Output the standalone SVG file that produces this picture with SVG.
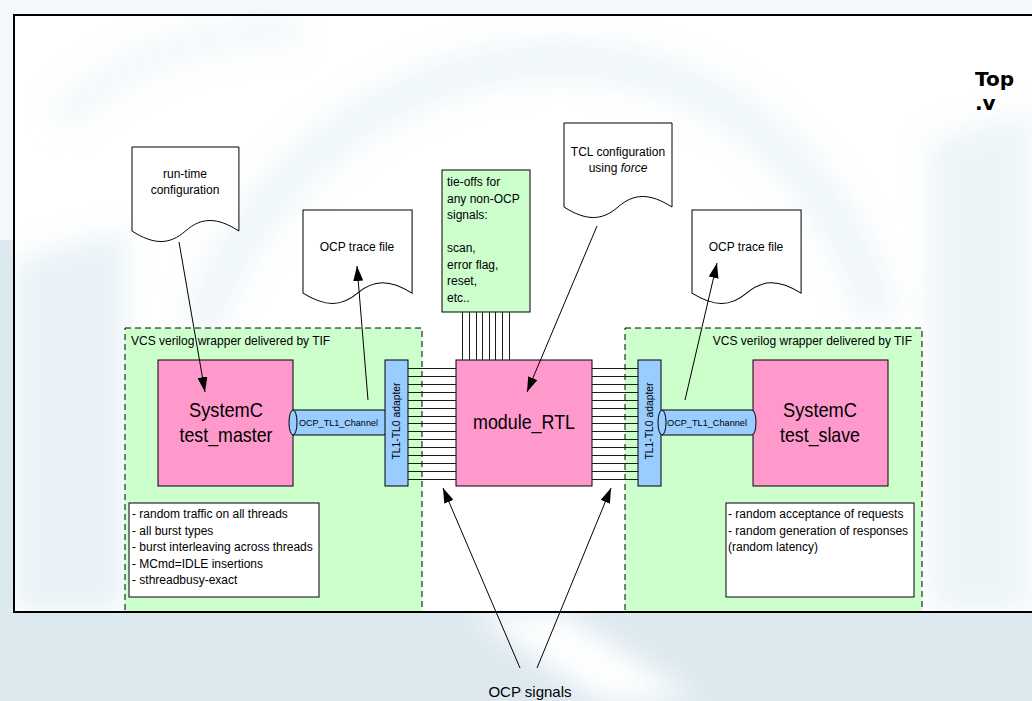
<svg xmlns="http://www.w3.org/2000/svg" width="1032" height="701" viewBox="0 0 1032 701">
<defs>
<style>
.t{font-family:"Liberation Sans",Arial,sans-serif;fill:#000}
.s12{font-size:12px}
.big{font-size:21px}
.doc{fill:#fff;stroke:#000;stroke-width:1}
.wrap{fill:#ccffcc;stroke:#000;stroke-width:1;stroke-dasharray:6 4}
.pink{fill:#ff99cc;stroke:#000;stroke-width:1}
.blue{fill:#99ccff;stroke:#000;stroke-width:1}
.note{fill:#fff;stroke:#000;stroke-width:1}
.wire{stroke:#1a1a1a;stroke-width:1;fill:none}
.arrow{stroke:#000;stroke-width:1;fill:none;marker-end:url(#ah)}
</style>
<marker id="ah" viewBox="0 0 15 10" refX="15" refY="5" markerWidth="15" markerHeight="10" markerUnits="userSpaceOnUse" orient="auto"><path d="M0,0 L15,5 L0,10 Z" fill="#000"/></marker>
<path id="docshape" d="M0,0 H108 V84 C86,70 70,70 54,84 C38,98 22,98 0,84 Z"/>
<filter id="blur" x="-20%" y="-20%" width="140%" height="140%"><feGaussianBlur stdDeviation="14"/></filter>
</defs>

<g id="background">
<rect x="0" y="0" width="1032" height="701" fill="#f6f9fb"/>
<rect x="0" y="612" width="1032" height="89" fill="#dde9ef"/>
<rect x="0" y="240" width="14" height="372" fill="#dde9ef"/>
<rect x="14" y="15" width="1030" height="597" fill="#ffffff"/>
<g filter="url(#blur)" opacity="0.5">
<polygon points="14,260 125,230 125,612 14,612" fill="#d3e6ef"/>
<polygon points="930,140 1032,110 1032,612 930,612" fill="#dcebf1"/>
<path d="M200,330 C260,150 420,60 560,60 C700,60 830,150 880,320" fill="none" stroke="#deedf3" stroke-width="40"/>
<path d="M60,120 C120,60 200,30 300,30" fill="none" stroke="#e6f1f5" stroke-width="30"/>
</g>
<g filter="url(#blur)">
<polygon points="470,612 560,612 700,701 600,701" fill="#ffffff"/>
</g>
</g>

<g id="top-label">
<text class="t" x="975" y="86" style="font-family:'DejaVu Sans',Verdana,sans-serif;font-weight:bold;font-size:20px">Top</text>
<text class="t" x="975" y="110" style="font-family:'DejaVu Sans',Verdana,sans-serif;font-weight:bold;font-size:20px">.v</text>
</g>

<g id="wrapper-left">
<rect class="wrap" x="125" y="328" width="297" height="284"/>
<text class="t s12" x="131" y="345">VCS verilog wrapper delivered by TIF</text>
</g>
<g id="wrapper-right">
<rect class="wrap" x="625" y="328" width="297" height="284"/>
<text class="t s12" x="912" y="345" text-anchor="end">VCS verilog wrapper delivered by TIF</text>
</g>

<g id="runtime-config">
<use href="#docshape" class="doc" transform="translate(132,147) scale(0.99,1)"/>
<text class="t s12" x="185" y="178" text-anchor="middle">run-time</text>
<text class="t s12" x="185" y="194" text-anchor="middle">configuration</text>
</g>

<g id="trace-left">
<use href="#docshape" class="doc" transform="translate(303,210) scale(1.01,0.99)"/>
<text class="t s12" x="357" y="251" text-anchor="middle">OCP trace file</text>
</g>

<g id="tcl-config">
<use href="#docshape" class="doc" transform="translate(564,123)"/>
<text class="t s12" x="618" y="156" text-anchor="middle">TCL configuration</text>
<text class="t s12" x="618" y="172" text-anchor="middle">using <tspan font-style="italic">force</tspan></text>
</g>

<g id="trace-right">
<use href="#docshape" class="doc" transform="translate(692,210) scale(1.01,0.99)"/>
<text class="t s12" x="746" y="251" text-anchor="middle">OCP trace file</text>
</g>

<g id="tieoffs">
<rect x="442" y="170" width="88" height="142" fill="#ccffcc" stroke="#000" stroke-width="1"/>
<text class="t s12" x="447" y="186">tie-offs for</text>
<text class="t s12" x="447" y="202.5">any non-OCP</text>
<text class="t s12" x="447" y="219">signals:</text>
<text class="t s12" x="447" y="252">scan,</text>
<text class="t s12" x="447" y="268.5">error flag,</text>
<text class="t s12" x="447" y="285">reset,</text>
<text class="t s12" x="447" y="301.5">etc..</text>
</g>

<g id="connectors">
<g id="tie-wires" class="wire">
<line x1="462.5" y1="312" x2="462.5" y2="360"/>
<line x1="469.5" y1="312" x2="469.5" y2="360"/>
<line x1="476.5" y1="312" x2="476.5" y2="360"/>
<line x1="482.5" y1="312" x2="482.5" y2="360"/>
<line x1="489.5" y1="312" x2="489.5" y2="360"/>
<line x1="495.5" y1="312" x2="495.5" y2="360"/>
<line x1="502.5" y1="312" x2="502.5" y2="360"/>
<line x1="509.5" y1="312" x2="509.5" y2="360"/>
</g>
<g id="wires-left" class="wire">
<line x1="408" y1="368.5" x2="456" y2="368.5"/>
<line x1="408" y1="376.5" x2="456" y2="376.5"/>
<line x1="408" y1="384.5" x2="456" y2="384.5"/>
<line x1="408" y1="392.5" x2="456" y2="392.5"/>
<line x1="408" y1="400.5" x2="456" y2="400.5"/>
<line x1="408" y1="408.5" x2="456" y2="408.5"/>
<line x1="408" y1="416.5" x2="456" y2="416.5"/>
<line x1="408" y1="423.5" x2="456" y2="423.5"/>
<line x1="408" y1="431.5" x2="456" y2="431.5"/>
<line x1="408" y1="439.5" x2="456" y2="439.5"/>
<line x1="408" y1="447.5" x2="456" y2="447.5"/>
<line x1="408" y1="455.5" x2="456" y2="455.5"/>
<line x1="408" y1="463.5" x2="456" y2="463.5"/>
<line x1="408" y1="471.5" x2="456" y2="471.5"/>
<line x1="408" y1="479.5" x2="456" y2="479.5"/>
</g>
<g id="wires-right" class="wire">
<line x1="592" y1="368.5" x2="638" y2="368.5"/>
<line x1="592" y1="376.5" x2="638" y2="376.5"/>
<line x1="592" y1="384.5" x2="638" y2="384.5"/>
<line x1="592" y1="392.5" x2="638" y2="392.5"/>
<line x1="592" y1="400.5" x2="638" y2="400.5"/>
<line x1="592" y1="408.5" x2="638" y2="408.5"/>
<line x1="592" y1="416.5" x2="638" y2="416.5"/>
<line x1="592" y1="423.5" x2="638" y2="423.5"/>
<line x1="592" y1="431.5" x2="638" y2="431.5"/>
<line x1="592" y1="439.5" x2="638" y2="439.5"/>
<line x1="592" y1="447.5" x2="638" y2="447.5"/>
<line x1="592" y1="455.5" x2="638" y2="455.5"/>
<line x1="592" y1="463.5" x2="638" y2="463.5"/>
<line x1="592" y1="471.5" x2="638" y2="471.5"/>
<line x1="592" y1="479.5" x2="638" y2="479.5"/>
</g>
</g>

<g id="test-master">
<rect class="pink" x="158" y="360" width="135" height="126"/>
<text class="t big" x="226" y="417" text-anchor="middle" textLength="74" lengthAdjust="spacingAndGlyphs">SystemC</text>
<text class="t big" x="226" y="442" text-anchor="middle" textLength="93" lengthAdjust="spacingAndGlyphs">test_master</text>
</g>

<g id="channel-left">
<path class="blue" d="M293,410 H384 A4,12.5 0 0 1 384,435 H293 Z"/>
<ellipse class="blue" cx="293" cy="422.5" rx="4" ry="12.5"/>
<text class="t" x="299" y="426" font-size="9" textLength="79" lengthAdjust="spacingAndGlyphs">OCP_TL1_Channel</text>
</g>

<g id="adapter-left">
<rect class="blue" x="385" y="360" width="23" height="126"/>
<text class="t" font-size="10" text-anchor="middle" transform="translate(400,421) rotate(-90)" textLength="77" lengthAdjust="spacingAndGlyphs">TL1-TL0 adapter</text>
</g>

<g id="module-rtl">
<rect class="pink" x="456" y="360" width="136" height="126"/>
<text class="t big" x="524" y="429" text-anchor="middle" textLength="102" lengthAdjust="spacingAndGlyphs">module_RTL</text>
</g>

<g id="adapter-right">
<rect class="blue" x="638" y="360" width="23" height="126"/>
<text class="t" font-size="10" text-anchor="middle" transform="translate(653,421) rotate(-90)" textLength="77" lengthAdjust="spacingAndGlyphs">TL1-TL0 adapter</text>
</g>

<g id="test-slave">
<rect class="pink" x="753" y="360" width="135" height="126"/>
<text class="t big" x="820" y="417" text-anchor="middle" textLength="74" lengthAdjust="spacingAndGlyphs">SystemC</text>
<text class="t big" x="820" y="442" text-anchor="middle" textLength="80" lengthAdjust="spacingAndGlyphs">test_slave</text>
</g>

<g id="channel-right">
<path class="blue" d="M662,410 H752 A4,12.5 0 0 1 752,435 H662 Z"/>
<ellipse class="blue" cx="662" cy="422.5" rx="4" ry="12.5"/>
<text class="t" x="667" y="426" font-size="9" textLength="80" lengthAdjust="spacingAndGlyphs">OCP_TL1_Channel</text>
</g>

<g id="notes-master">
<rect class="note" x="129" y="503" width="190" height="94"/>
<text class="t s12" x="132" y="518">- random traffic on all threads</text>
<text class="t s12" x="132" y="534.5">- all burst types</text>
<text class="t s12" x="132" y="551">- burst interleaving across threads</text>
<text class="t s12" x="132" y="567.5">- MCmd=IDLE insertions</text>
<text class="t s12" x="132" y="584">- sthreadbusy-exact</text>
</g>

<g id="notes-slave">
<rect class="note" x="726" y="503" width="188" height="94"/>
<text class="t s12" x="728" y="518">- random acceptance of requests</text>
<text class="t s12" x="728" y="534.5">- random generation of responses</text>
<text class="t s12" x="728" y="551">(random latency)</text>
</g>

<g id="arrows">
<line class="arrow" x1="179" y1="242" x2="205" y2="392"/>
<line class="arrow" x1="368" y1="400" x2="357" y2="266"/>
<line class="arrow" x1="597" y1="226" x2="527" y2="392"/>
<line class="arrow" x1="685" y1="400" x2="717" y2="263"/>
<line class="arrow" x1="520" y1="668" x2="443" y2="488"/>
<line class="arrow" x1="537" y1="668" x2="611" y2="488"/>
</g>

<g id="frame">
<rect x="14" y="15" width="1030" height="597" fill="none" stroke="#000" stroke-width="2"/>
</g>

<g id="ocp-signals">
<text class="t" x="530" y="697" font-size="15" text-anchor="middle">OCP signals</text>
</g>
</svg>
